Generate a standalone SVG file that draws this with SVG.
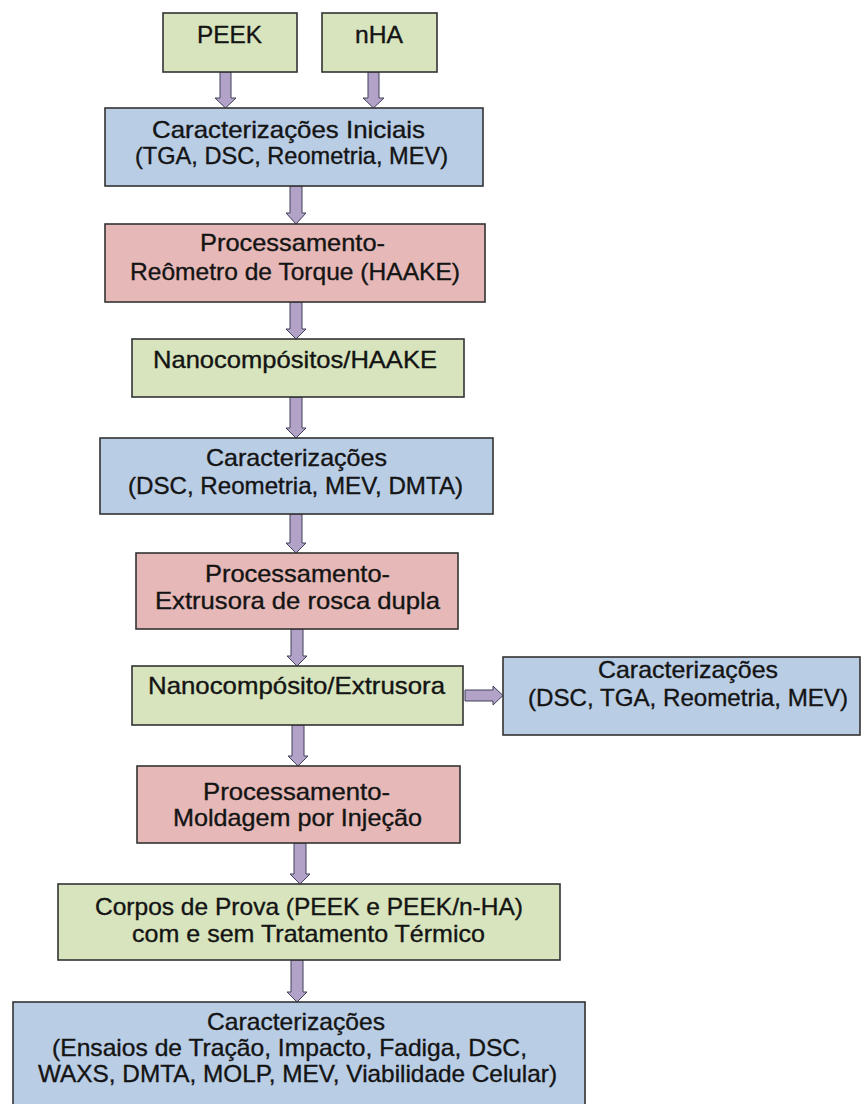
<svg xmlns="http://www.w3.org/2000/svg" width="862" height="1104" viewBox="0 0 862 1104">
<defs>
<style>
.g{fill:#d7e4bd;stroke:#333;stroke-width:1.6}
.b{fill:#b9cde5;stroke:#333;stroke-width:1.6}
.r{fill:#e6b9b8;stroke:#333;stroke-width:1.6}
.t{font-family:"Liberation Sans",Arial,sans-serif;font-size:24px;fill:#141414;stroke:#141414;stroke-width:0.35;text-anchor:middle}
.a{fill:#b3a2c7;stroke:#40405a;stroke-width:1}
</style>
</defs>
<rect width="862" height="1104" fill="#fff"/>
<g id="connectors">
<path class="a" d="M220,72 H231 V98 H236 L225.5,108 L215,98 H220 Z"/>
<path class="a" d="M368,72 H379 V98 H384 L373.5,108 L363,98 H368 Z"/>
<path class="a" d="M290,186 H302 V213 H306 L296,224 L286,213 H290 Z"/>
<path class="a" d="M290,302 H302 V329 H306 L296,339 L286,329 H290 Z"/>
<path class="a" d="M290,397 H302 V428 H306 L296,438 L286,428 H290 Z"/>
<path class="a" d="M290,514 H302 V543 H306 L296,553 L286,543 H290 Z"/>
<path class="a" d="M291,629 H303 V656 H307 L297,666 L287,656 H291 Z"/>
<path class="a" d="M292,725 H304 V756 H308 L298,766 L288,756 H292 Z"/>
<path class="a" d="M294,843 H306 V874 H310 L300,884 L290,874 H294 Z"/>
<path class="a" d="M291,960 H303 V992 H307 L297,1002 L287,992 H291 Z"/>
<path class="a" d="M465,690 H493 V686 L503,695.5 L493,705 V701 H465 Z"/>
</g>
<g id="n1"><rect class="g" x="163" y="13" width="134" height="59"/><text class="t" x="229.5" y="43" textLength="65" lengthAdjust="spacingAndGlyphs">PEEK</text></g>
<g id="n2"><rect class="g" x="322" y="13" width="115" height="59"/><text class="t" x="379" y="43" textLength="48" lengthAdjust="spacingAndGlyphs">nHA</text></g>
<g id="n3"><rect class="b" x="105" y="108" width="378" height="78"/><text class="t" x="288.5" y="138" textLength="273" lengthAdjust="spacingAndGlyphs">Caracterizações Iniciais</text><text class="t" x="291.5" y="164" textLength="313" lengthAdjust="spacingAndGlyphs">(TGA, DSC, Reometria, MEV)</text></g>
<g id="n4"><rect class="r" x="105" y="224" width="380" height="78"/><text class="t" x="292.5" y="251" textLength="185" lengthAdjust="spacingAndGlyphs">Processamento-</text><text class="t" x="295" y="280" textLength="330" lengthAdjust="spacingAndGlyphs">Reômetro de Torque (HAAKE)</text></g>
<g id="n5"><rect class="g" x="132" y="339" width="332" height="58"/><text class="t" x="295" y="368" textLength="284" lengthAdjust="spacingAndGlyphs">Nanocompósitos/HAAKE</text></g>
<g id="n6"><rect class="b" x="100" y="438" width="393" height="76"/><text class="t" x="296.5" y="466" textLength="181" lengthAdjust="spacingAndGlyphs">Caracterizações</text><text class="t" x="295.5" y="494" textLength="335" lengthAdjust="spacingAndGlyphs">(DSC, Reometria, MEV, DMTA)</text></g>
<g id="n7"><rect class="r" x="136" y="553" width="322" height="76"/><text class="t" x="297.5" y="582" textLength="185" lengthAdjust="spacingAndGlyphs">Processamento-</text><text class="t" x="297.5" y="609" textLength="285" lengthAdjust="spacingAndGlyphs">Extrusora de rosca dupla</text></g>
<g id="n8"><rect class="g" x="132" y="666" width="331" height="59"/><text class="t" x="296.5" y="694" textLength="297" lengthAdjust="spacingAndGlyphs">Nanocompósito/Extrusora</text></g>
<g id="n9"><rect class="b" x="503" y="657" width="357" height="78"/><text class="t" x="688" y="678" textLength="180" lengthAdjust="spacingAndGlyphs">Caracterizações</text><text class="t" x="688" y="706" textLength="320" lengthAdjust="spacingAndGlyphs">(DSC, TGA, Reometria, MEV)</text></g>
<g id="n10"><rect class="r" x="137" y="766" width="323" height="77"/><text class="t" x="296.5" y="800" textLength="187" lengthAdjust="spacingAndGlyphs">Processamento-</text><text class="t" x="297.5" y="826" textLength="249" lengthAdjust="spacingAndGlyphs">Moldagem por Injeção</text></g>
<g id="n11"><rect class="g" x="58" y="884" width="502" height="76"/><text class="t" x="309" y="915" textLength="428" lengthAdjust="spacingAndGlyphs">Corpos de Prova (PEEK e PEEK/n-HA)</text><text class="t" x="308.5" y="942" textLength="353" lengthAdjust="spacingAndGlyphs">com e sem Tratamento Térmico</text></g>
<g id="n12"><rect class="b" x="13" y="1002" width="572" height="110"/><text class="t" x="296" y="1030" textLength="178" lengthAdjust="spacingAndGlyphs">Caracterizações</text><text class="t" x="289.5" y="1056" textLength="475" lengthAdjust="spacingAndGlyphs">(Ensaios de Tração, Impacto, Fadiga, DSC,</text><text class="t" x="297.5" y="1082" textLength="519" lengthAdjust="spacingAndGlyphs">WAXS, DMTA, MOLP, MEV, Viabilidade Celular)</text></g>
</svg>
